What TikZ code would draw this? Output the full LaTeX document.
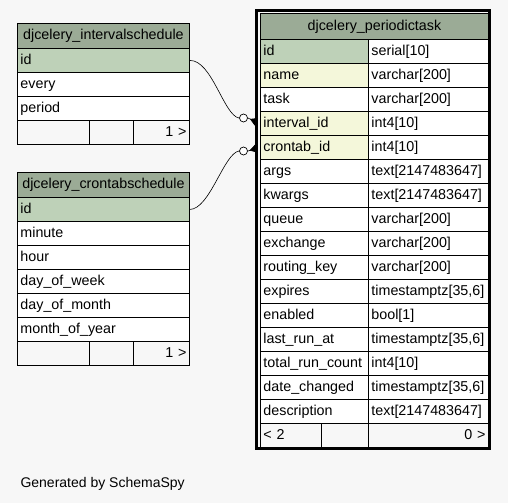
\documentclass[tikz,border=0pt]{standalone}
\usepackage{fontspec}
\setmainfont{Liberation Sans}
\usepackage{tikz}
\usetikzlibrary{arrows.meta}

\definecolor{hdrbg}{HTML}{9BAB96}
\definecolor{pkbg}{HTML}{BED1B8}
\definecolor{fkbg}{HTML}{F4F7DA}
\definecolor{pagebg}{HTML}{F7F7F7}

\tikzset{
	cell/.style={draw, rectangle, anchor=north west, line width=0.9pt, minimum height=24pt, inner xsep=3pt, inner ysep=0pt, text height=10.5pt, text depth=3pt, align=left, fill=white, font=\fontsize{14.3}{16}\selectfont},
	wide/.style={cell, text width=166pt},
	col1/.style={cell, text width=102pt},
	col2/.style={cell, text width=114pt},
	hdr/.style={cell, fill=hdrbg, align=center},
	pk/.style={fill=pkbg},
	fk/.style={fill=fkbg},
	foot/.style={cell, fill=pagebg},
	odot/.style={draw, circle, fill=white, line width=0.7pt, inner sep=0pt, minimum size=8pt},
	rel/.style={line width=0.6pt, -{Triangle[reversed, length=7pt, width=8pt]}}
}

\begin{document}
\begin{tikzpicture}[x=1pt,y=-1pt]
	\fill[pagebg] (0,0) rectangle (508,503);
	%\draw[help lines,step=24] (0,0) grid (508,503);
	
	% djcelery_intervalschedule
	\node[hdr, text width=166pt, minimum height=25pt] (isname) at (17,23) {djcelery\_intervalschedule};
	\node[wide, pk] (isid) at (17,48) {id};
	\node[wide] (isevery) at (17,72) {every};
	\node[wide] (isperiod) at (17,96) {period};
	\node[foot, minimum width=72pt] (isfoota) at (17,120) {};
	\node[foot, minimum width=44pt] (isfootb) at (89,120) {};
	\node[foot, text width=50pt, align=right] (isfootc) at (133,120) {1 >};
	
	% djcelery_crontabschedule
	\node[hdr, text width=166pt, minimum height=25pt] (csname) at (17,172) {djcelery\_crontabschedule};
	\node[wide, pk] (csid) at (17,197) {id};
	\node[wide] (csminute) at (17,221) {minute};
	\node[wide] (cshour) at (17,245) {hour};
	\node[wide] (csdow) at (17,269) {day\_of\_week};
	\node[wide] (csdom) at (17,293) {day\_of\_month};
	\node[wide] (csmoy) at (17,317) {month\_of\_year};
	\node[foot, minimum width=72pt] (csfoota) at (17,341) {};
	\node[foot, minimum width=44pt] (csfootb) at (89,341) {};
	\node[foot, text width=50pt, align=right] (csfootc) at (133,341) {1 >};
	
	% djcelery_periodictask
	\node[hdr, text width=222pt, minimum height=26pt] (ptname) at (260,13) {djcelery\_periodictask};
	\node[col1, pk] (ptid) at (260,39) {id};
	\node[col2] (ptidt) at (368,39) {serial[10]};
	\node[col1, fk] (ptnm) at (260,63) {name};
	\node[col2] (ptnmt) at (368,63) {varchar[200]};
	\node[col1] (pttask) at (260,87) {task};
	\node[col2] (pttaskt) at (368,87) {varchar[200]};
	\node[col1, fk] (ptinterval) at (260,111) {interval\_id};
	\node[col2] (ptintervalt) at (368,111) {int4[10]};
	\node[col1, fk] (ptcrontab) at (260,135) {crontab\_id};
	\node[col2] (ptcrontabt) at (368,135) {int4[10]};
	\node[col1] (ptargs) at (260,159) {args};
	\node[col2] (ptargst) at (368,159) {text[2147483647]};
	\node[col1] (ptkwargs) at (260,183) {kwargs};
	\node[col2] (ptkwargst) at (368,183) {text[2147483647]};
	\node[col1] (ptqueue) at (260,207) {queue};
	\node[col2] (ptqueuet) at (368,207) {varchar[200]};
	\node[col1] (ptexch) at (260,231) {exchange};
	\node[col2] (ptexcht) at (368,231) {varchar[200]};
	\node[col1] (ptrkey) at (260,255) {routing\_key};
	\node[col2] (ptrkeyt) at (368,255) {varchar[200]};
	\node[col1] (ptexp) at (260,279) {expires};
	\node[col2] (ptexpt) at (368,279) {timestamptz[35,6]};
	\node[col1] (ptenab) at (260,303) {enabled};
	\node[col2] (ptenabt) at (368,303) {bool[1]};
	\node[col1] (ptlast) at (260,327) {last\_run\_at};
	\node[col2] (ptlastt) at (368,327) {timestamptz[35,6]};
	\node[col1] (pttotal) at (260,351) {total\_run\_count};
	\node[col2] (pttotalt) at (368,351) {int4[10]};
	\node[col1] (ptdate) at (260,375) {date\_changed};
	\node[col2] (ptdatet) at (368,375) {timestamptz[35,6]};
	\node[col1] (ptdesc) at (260,399) {description};
	\node[col2] (ptdesct) at (368,399) {text[2147483647]};
	\node[foot, text width=55pt] (ptfoota) at (260,423) {< 2};
	\node[foot, minimum width=47pt] (ptfootb) at (321,423) {};
	\node[foot, text width=114pt, align=right] (ptfootc) at (368,423) {0 >};
	\draw[line width=3pt] (256.5,10.5) rectangle (489.5,448.5);
	
	% relations
	\node[odot] (ivdot) at (243.5,118) {};
	\node[odot] (crdot) at (243.5,151) {};
	\draw[line width=0.6pt] (isid.east) .. controls (212,60) and (224,116) .. (ivdot.west);
	\draw[line width=0.6pt] (csid.east) .. controls (210,209) and (224,153) .. (crdot.west);
	\draw[rel, shorten >=4pt] (ivdot.east) -- (ptinterval.west);
	\draw[rel, shorten >=4pt] (crdot.east) -- (ptcrontab.west);
	
	\node[anchor=base west, font=\fontsize{14}{16}\selectfont] (gen) at (17,487) {Generated by SchemaSpy};
\end{tikzpicture}
\end{document}
